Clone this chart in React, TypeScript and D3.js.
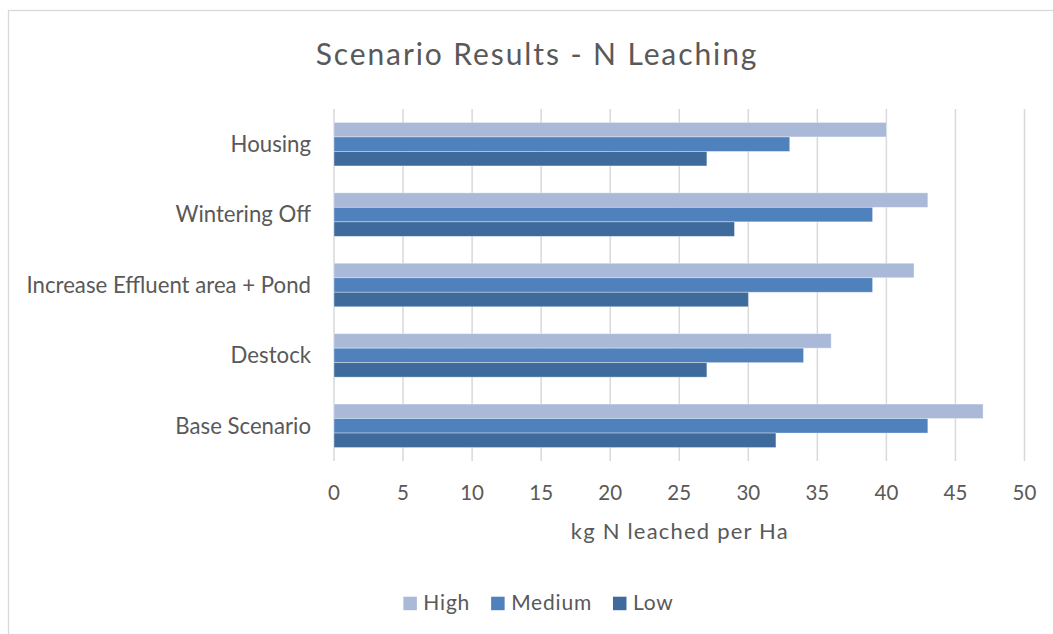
import React, { useEffect, useRef } from "react";
import * as d3 from "d3";

// Scenario categories, top to bottom
const categories: string[] = [
  "Housing",
  "Wintering Off",
  "Increase Effluent area + Pond",
  "Destock",
  "Base Scenario",
];

// Series names, drawn in this order within each category
const seriesNames: string[] = ["High", "Medium", "Low"];

// kg N leached per Ha, one value per category
const highValues: number[] = [40, 43, 42, 36, 47];
const mediumValues: number[] = [33, 39, 39, 34, 43];
const lowValues: number[] = [27, 29, 30, 27, 32];

const xTicks: number[] = [0, 5, 10, 15, 20, 25, 30, 35, 40, 45, 50];

const titleText = "Scenario Results - N Leaching";
const xAxisTitle = "kg N leached per Ha";

const seriesColors: string[] = ["#AAB9D8", "#4F81BD", "#3F6A9C"];

const W = 1053;
const H = 634;
const FONT = "Lato, 'Open Sans', sans-serif";
const TEXT = "#595959";
const GRID = "#D9D9D9";

export default function App() {
  const ref = useRef<SVGSVGElement | null>(null);

  useEffect(() => {
    const svg = d3.select(ref.current);
    svg.selectAll("*").remove();

    const seriesValues = [highValues, mediumValues, lowValues];

    const plot = { left: 334, right: 1024.5, top: 109, bottom: 461 };

    const x = d3.scaleLinear().domain([0, 50]).range([plot.left, plot.right]);
    const y = d3
      .scaleBand<string>()
      .domain(categories)
      .range([plot.top, plot.bottom])
      .paddingInner(0.382)
      .paddingOuter(0.191);
    const ySeries = d3
      .scaleBand<string>()
      .domain(seriesNames)
      .range([0, y.bandwidth()])
      .padding(0);

    // chart frame
    svg
      .append("rect")
      .attr("x", 8.5)
      .attr("y", 10.5)
      .attr("width", 1080)
      .attr("height", 700)
      .attr("fill", "#fff")
      .attr("stroke", GRID)
      .attr("stroke-width", 1.3);

    // title
    svg
      .append("text")
      .attr("x", 537)
      .attr("y", 65)
      .attr("text-anchor", "middle")
      .attr("font-family", FONT)
      .attr("font-size", 30)
      .attr("letter-spacing", 1.9)
      .attr("fill", TEXT)
      .text(titleText);

    // vertical gridlines
    svg
      .append("g")
      .selectAll("line")
      .data(xTicks)
      .join("line")
      .attr("x1", (d) => x(d))
      .attr("x2", (d) => x(d))
      .attr("y1", plot.top)
      .attr("y2", plot.bottom)
      .attr("stroke", GRID)
      .attr("stroke-width", 1.5);

    // bars
    const groups = svg
      .append("g")
      .selectAll("g")
      .data(categories)
      .join("g")
      .attr("transform", (c) => `translate(0,${y(c)})`);

    groups
      .selectAll("rect")
      .data((c) =>
        seriesNames.map((s, si) => ({ s, si, v: seriesValues[si][categories.indexOf(c)] }))
      )
      .join("rect")
      .attr("x", x(0))
      .attr("y", (d) => ySeries(d.s) as number)
      .attr("width", (d) => x(d.v) - x(0))
      .attr("height", ySeries.bandwidth())
      .attr("fill", (d) => seriesColors[d.si])
      .attr("stroke", "#ffffff")
      .attr("stroke-opacity", 0.45)
      .attr("stroke-width", 0.8);

    // category labels
    svg
      .append("g")
      .selectAll("text")
      .data(categories)
      .join("text")
      .attr("x", 311)
      .attr("y", (c) => (y(c) as number) + y.bandwidth() / 2 + 7.8)
      .attr("text-anchor", "end")
      .attr("font-family", FONT)
      .attr("font-size", 22.2)
      .attr("fill", TEXT)
      .text((c) => c);

    // tick labels
    svg
      .append("g")
      .selectAll("text")
      .data(xTicks)
      .join("text")
      .attr("x", (d) => x(d))
      .attr("y", 500)
      .attr("text-anchor", "middle")
      .attr("font-family", FONT)
      .attr("font-size", 20.5)
      .attr("fill", TEXT)
      .text((d) => String(d));

    // axis title
    svg
      .append("text")
      .attr("x", (plot.left + plot.right) / 2 + 0.6)
      .attr("y", 538.5)
      .attr("text-anchor", "middle")
      .attr("font-family", FONT)
      .attr("font-size", 22)
      .attr("letter-spacing", 1.2)
      .attr("fill", TEXT)
      .text(xAxisTitle);

    // legend
    const legend = svg.append("g");
    const sq = 13.5;
    const gapText = 6.5;
    const gapItem = 21;
    const items = seriesNames.map((s, i) => {
      const g = legend.append("g");
      g.append("rect")
        .attr("x", 0)
        .attr("y", 596.7)
        .attr("width", sq)
        .attr("height", sq)
        .attr("fill", seriesColors[i]);
      const t = g
        .append("text")
        .attr("x", sq + gapText)
        .attr("y", 610)
        .attr("font-family", FONT)
        .attr("font-size", 21)
        .attr("letter-spacing", 0.8)
        .attr("fill", TEXT)
        .text(s);
      const w = (t.node() as SVGTextElement).getComputedTextLength();
      return { g, width: sq + gapText + w };
    });
    const total =
      items.reduce((a, b) => a + b.width, 0) + gapItem * (items.length - 1);
    let cx = 538.5 - total / 2;
    items.forEach((it) => {
      it.g.attr("transform", `translate(${cx},0)`);
      cx += it.width + gapItem;
    });
  }, []);

  return (
    <svg
      ref={ref}
      width={W}
      height={H}
      style={{ position: "absolute", left: 0, top: 0, display: "block", background: "#fff" }}
    />
  );
}
